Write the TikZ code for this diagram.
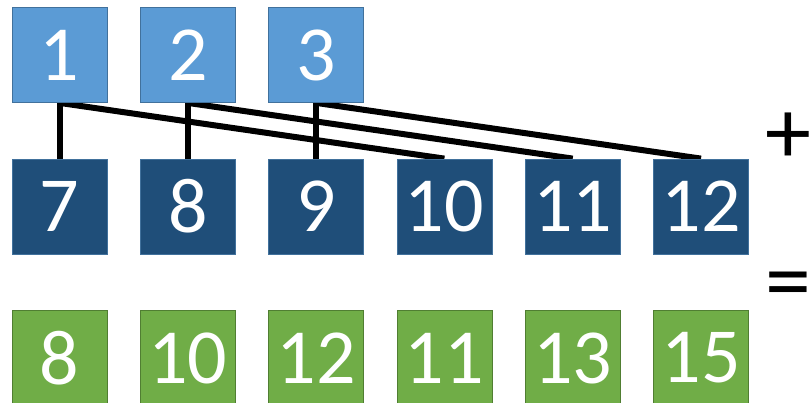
\documentclass[tikz,border=0pt]{standalone}
\usepackage{fontspec}
\setmainfont{Carlito}
\usetikzlibrary{backgrounds}
\definecolor{lightbox}{HTML}{5B9BD5}
\definecolor{lightedge}{HTML}{41719C}
\definecolor{darkbox}{HTML}{1F4E79}
\definecolor{darkedge}{HTML}{41719C}
\definecolor{greenbox}{HTML}{70AD47}
\definecolor{greenedge}{HTML}{507E32}
\tikzset{
  numbox/.style={minimum size=95pt, inner sep=0pt, line width=0.8pt,
    text=white, font=\fontsize{78}{78}\selectfont},
  inbox/.style={numbox, fill=lightbox, draw=lightedge},
  addbox/.style={numbox, fill=darkbox, draw=darkedge},
  sumbox/.style={numbox, fill=greenbox, draw=greenedge},
  wire/.style={line width=6pt, black},
  sign/.style={inner sep=0pt, font=\fontsize{92}{92}\selectfont}
}
\begin{document}
\begin{tikzpicture}[x=1pt, y=-1pt]
  \useasboundingbox (0,0) rectangle (810,403);
  % input row
  \foreach \i/\v in {1/1,2/2,3/3}
    \node[inbox] (a\i) at ({59.5+128.3*(\i-1)},55) {\v};
  % second operand row
  \foreach \i/\v in {1/7,2/8,3/9,4/10,5/11,6/12}
    \node[addbox] (b\i) at ({59.5+128.3*(\i-1)},206.5) {\v};
  % result row
  \foreach \i/\v in {1/8,2/10,3/12,4/11,5/13,6/15}
    \node[sumbox] (c\i) at ({59.5+128.3*(\i-1)},358) {\v};
  % connections from each input to two partners
  \begin{scope}[on background layer]
    \foreach \i/\j in {1/4,2/5,3/6} {
      \draw[wire] (a\i.south) -- (b\i.north);
      \draw[wire] (a\i.south) -- (b\j.north);
    }
  \end{scope}
  \node[sign] (plus) at (788,138) {+};
  \node[sign] (eq) at (788,292) {=};
\end{tikzpicture}
\end{document}
